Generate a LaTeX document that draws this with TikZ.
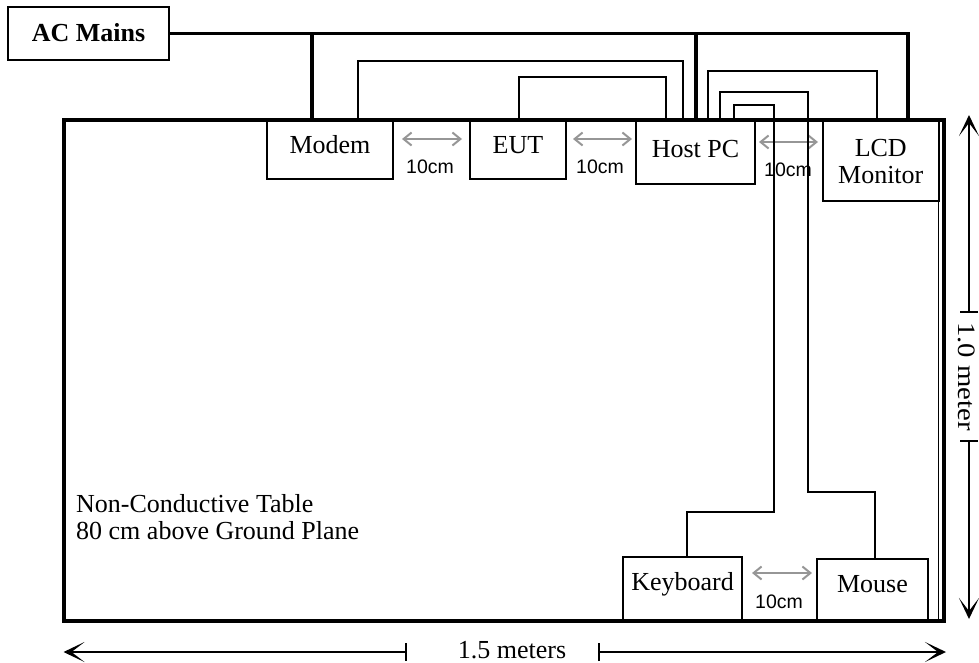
\documentclass[tikz,border=0pt]{standalone}
\usepackage{fontspec}
\setmainfont{Liberation Serif}
\newfontfamily\arialfont{Liberation Sans}
\usetikzlibrary{arrows.meta}
\definecolor{gapgray}{RGB}{150,150,150}
\begin{document}
\begin{tikzpicture}[x=1pt,y=-1pt,
  box/.style={draw, line width=2pt, inner sep=0pt, outer sep=0pt},
  lbl/.style={font=\fontsize{26}{26.5}\selectfont, inner sep=0pt, anchor=base},
  cmlbl/.style={font=\arialfont\fontsize{19.5}{20}\selectfont, inner sep=0pt, anchor=base},
  power/.style={line width=3.5pt},
  cable/.style={line width=2pt},
  gaparrow/.style={draw=gapgray, line width=2pt, {Straight Barb[length=8pt,width=13pt]}-{Straight Barb[length=8pt,width=13pt]}},
  dimarrow/.style={line width=2pt, {Bar[width=18pt]}-{Stealth[length=21pt,width=20pt,inset=13pt]}}
]
\useasboundingbox (0,0) rectangle (979,662);

% table
\node[draw, line width=4pt, minimum width=880pt, minimum height=501pt, inner sep=0pt, outer sep=0pt] (table) at (503.5,370) {};
\draw[line width=1.5pt] (938.5,0 |- table.north) -- (938.5,0 |- table.south);

% boxes
\node[box, minimum width=161pt, minimum height=53pt] (acm) at (88.5,33.5) {};
\node[lbl, font=\bfseries\fontsize{26}{26.5}\selectfont] (acm-t) at (88.5,41) {AC Mains};

\node[box, minimum width=126pt, minimum height=59pt] (modem) at (330,149.5) {};
\node[lbl] (modem-t) at (330,153) {Modem};

\node[box, minimum width=96pt, minimum height=59pt] (eut) at (518,149.5) {};
\node[lbl] (eut-t) at (518,153) {EUT};

\node[box, minimum width=119pt, minimum height=64pt] (host) at (695.5,152) {};
\node[lbl] (host-t) at (695.5,157) {Host PC};

\node[box, minimum width=115.5pt, minimum height=81pt] (lcd) at (880.75,160.5) {};
\node[lbl, align=center] (lcd-t) at (880.75,183) {LCD\\Monitor};

\node[box, minimum width=119pt, minimum height=63.5pt] (kbd) at (682.5,588.75) {};
\node[lbl] (kbd-t) at (682.5,590) {Keyboard};

\node[box, minimum width=111pt, minimum height=61.5pt] (mouse) at (872.5,589.75) {};
\node[lbl] (mouse-t) at (872.5,592) {Mouse};

% 10cm labels
\node[cmlbl] (cm1) at (430,173.5) {10cm};
\node[cmlbl] (cm2) at (600,173.5) {10cm};
\node[cmlbl] (cm3) at (788,176) {10cm};
\node[cmlbl] (cm4) at (779,608) {10cm};

% spacing arrows
\draw[gaparrow, shorten <=9pt, shorten >=8pt] (modem.east |- 0,139) -- (eut.west |- 0,139);
\draw[gaparrow, shorten <=7pt, shorten >=4pt] (eut.east |- 0,139) -- (host.west |- 0,139);
\draw[gaparrow, shorten <=4pt, shorten >=5pt] (host.east |- 0,142) -- (lcd.west |- 0,142);
\draw[gaparrow, shorten <=10pt, shorten >=5pt] (kbd.east |- 0,573) -- (mouse.west |- 0,573);

% power
\draw[power] (acm.east) -| (908,0 |- lcd.north);
\draw[power] (312,0 |- acm.east) -- (312,0 |- modem.north);
\draw[power] (696,0 |- acm.east) -- (696,0 |- host.north);

% cables
\draw[cable] (358,0 |- modem.north) |- (683,61) -- (683,0 |- host.north);
\draw[cable] (519,0 |- eut.north) |- (666,77) -- (666,0 |- host.north);
\draw[cable] (708,0 |- host.north) |- (877,71) -- (877,0 |- lcd.north);
\draw[cable] (720,0 |- host.north) |- (808,92) -- (808,492) -| (875,0 |- mouse.north);
\draw[cable] (734,0 |- host.north) |- (774,105) -- (774,512) -| (687,0 |- kbd.north);

% table text
\node[lbl, anchor=base west, align=left] (tabletext) at (76,539) {Non-Conductive Table\\80 cm above Ground Plane};

% dimensions
\coordinate (dimL) at (table.south west |- 0,652);
\coordinate (dimR) at (946,652);
\draw[dimarrow] (407,652) -- (dimL);
\draw[dimarrow] (598,652) -- (dimR);
\node[lbl] (wlbl) at (512,658) {1.5 meters};

\coordinate (dimT) at (969,115);
\coordinate (dimB) at (969,619);
\draw[dimarrow] (969,313) -- (dimT);
\draw[dimarrow] (969,440) -- (dimB);
\node[lbl, font=\fontsize{25}{26}\selectfont, anchor=center, rotate=-90] (hlbl) at (966.5,376.5) {\scalebox{1.15}[1]{1.0 meter}};
\end{tikzpicture}
\end{document}
